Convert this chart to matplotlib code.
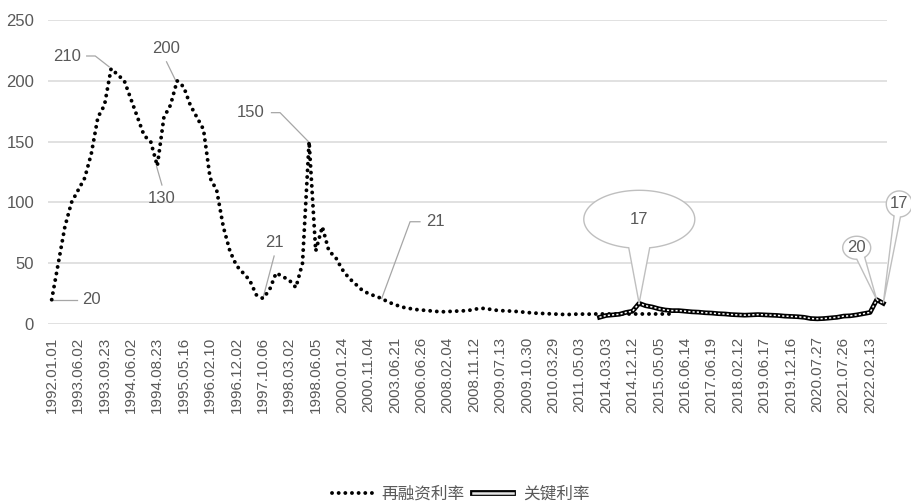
import numpy as np
import matplotlib.pyplot as plt
from matplotlib.lines import Line2D
from matplotlib.patches import Polygon

plt.rcParams['font.family'] = ['Liberation Sans', 'Noto Sans CJK SC', 'DejaVu Sans']

# Refinancing rate, one value per rate change (1992.01.01 ... 2015.08.03)
refi_rate = [20, 50, 80, 100, 110, 120, 140, 170, 180, 210,
             205, 200, 185, 170, 155, 150, 130, 170, 180, 200,
             195, 180, 170, 160, 120, 110, 80, 60, 48, 42,
             36, 24, 21, 28, 42, 39, 36, 30, 50, 150,
             60, 80, 60, 55, 45, 38, 33, 28, 25, 23,
             21, 18, 16, 14, 13, 12, 11.5, 11, 10.5, 10,
             10.25, 10.5, 10.75, 11, 12, 13, 12.5, 11.5, 11, 10.75,
             10.5, 10, 9.5, 9, 8.75, 8.5, 8.25, 8, 7.75, 8,
             8.25, 8, 8.25, 8.25, 8.25, 8.25, 8.25, 8.25, 8.25, 8.25,
             8.25, 8.25, 8.25, 8.25, 8.25]

# Key rate, starting at 2013.09.13
key_start = 83
key_rate = [5.5, 7, 7.5, 8, 9.5, 10.5, 17, 15, 14, 12.5,
            11.5, 11, 11, 10.5, 10, 9.75, 9.25, 9, 8.5, 8.25,
            7.75, 7.5, 7.25, 7.5, 7.75, 7.5, 7.25, 7, 6.5, 6.25,
            6, 5.5, 4.5, 4.25, 4.5, 5, 5.5, 6.5, 6.75, 7.5,
            8.5, 9.5, 20, 17]

tick_labels = ['1992.01.01', '1993.06.02', '1993.09.23', '1994.06.02', '1994.08.23',
               '1995.05.16', '1996.02.10', '1996.12.02', '1997.10.06', '1998.03.02',
               '1998.06.05', '2000.01.24', '2000.11.04', '2003.06.21', '2006.06.26',
               '2008.02.04', '2008.11.12', '2009.07.13', '2009.10.30', '2010.03.29',
               '2011.05.03', '2014.03.03', '2014.12.12', '2015.05.05', '2016.06.14',
               '2017.06.19', '2018.02.12', '2019.06.17', '2019.12.16', '2020.07.27',
               '2021.07.26', '2022.02.13']

n_points = key_start + len(key_rate)
x_refi = np.arange(len(refi_rate))
x_key = np.arange(key_start, n_points)

grey_txt = '#595959'
leader = '#a6a6a6'

fig = plt.figure(figsize=(9.12, 5.03), dpi=100)
ax = fig.add_axes([48 / 912, 1 - 324 / 503, (887 - 48) / 912, (324 - 20) / 503])

ax.plot(x_refi, refi_rate, color='black', lw=2.8, linestyle=(0, (0.01, 1.7)),
        dash_capstyle='round', zorder=3)
ax.plot(x_key, key_rate, color='black', lw=3.4, zorder=4)
ax.plot(x_key, key_rate, color='white', lw=1.1, linestyle=(0, (1.4, 1.4)), zorder=5)

ax.set_xlim(-0.56, n_points - 1 + 0.56)
ax.set_ylim(0, 250)
ax.set_yticks(np.arange(0, 251, 50))
ax.set_xticks(np.arange(0, len(tick_labels) * 4, 4))
ax.set_xticklabels(tick_labels, rotation=90, fontsize=11, color=grey_txt)
ax.tick_params(axis='y', labelsize=12, labelcolor=grey_txt, length=0, pad=10)
ax.tick_params(axis='x', length=0, pad=9)
for s in ax.spines.values():
    s.set_visible(False)
ax.yaxis.grid(True, color='#d9d9d9', lw=1.1)
ax.set_axisbelow(True)


def label(txt, tx, ty, path):
    ax.text(tx, ty, txt, ha='center', va='center', fontsize=12, color=grey_txt, zorder=6)
    px, py = zip(*path)
    ax.plot(px, py, color=leader, lw=0.9, zorder=2, clip_on=False)


label('20', 5.95, 20, [(0, 20), (3.8, 20)])
label('210', 2.3, 219.6, [(5.3, 220.4), (6.6, 220.4), (8.7, 211.5)])
label('200', 17.4, 226.7, [(17.4, 215.6), (18.8, 200)])
label('130', 16.7, 102.8, [(16.7, 114.3), (15.9, 129.4)])
label('150', 30.2, 173.8, [(33.3, 173.8), (34.6, 173.8), (38.9, 150)])
label('21', 33.7, 67.2, [(33.7, 55.9), (32, 21)])
label('21', 58.1, 84.1, [(55.8, 84.1), (54.3, 84.1), (50, 21)])


def callout(txt, cx, cy, a, b, tip, half):
    # ellipse outline with a wedge pointing at the data point
    tx, ty = tip
    t0 = np.arctan2((ty - cy) / b, (tx - cx) / a)
    t = np.linspace(t0 + half, t0 + 2 * np.pi - half, 200)
    pts = np.column_stack([cx + a * np.cos(t), cy + b * np.sin(t)])
    pts = np.vstack([pts, [tx, ty]])
    ax.add_patch(Polygon(pts, closed=True, facecolor='white', edgecolor='#bfbfbf',
                         lw=1.0, zorder=6, clip_on=False))
    ax.text(cx, cy, txt, ha='center', va='center', fontsize=12, color=grey_txt,
            zorder=7, clip_on=False)


callout('17', 89.03, 86.1, 8.41, 23.85, (89, 17), 0.19)
callout('20', 121.97, 62.7, 2.12, 9.46, (125, 20), 0.3)
callout('17', 128.42, 98.7, 1.97, 10.7, (126, 17), 0.25)

h_refi = Line2D([], [], color='black', lw=2.8, linestyle=(0, (0.01, 1.7)),
                dash_capstyle='round')
h_key = (Line2D([], [], color='black', lw=4.2),
         Line2D([], [], color='#e6e6e6', lw=1.8))
fig.legend([h_refi, h_key], ['再融资利率', '关键利率'], loc='center',
           bbox_to_anchor=(0.505, 0.018), ncol=2, frameon=False,
           prop={'family': ['Noto Sans CJK SC', 'DejaVu Sans'], 'size': 12},
           labelcolor=grey_txt, handlelength=2.4, handletextpad=0.6,
           columnspacing=0.5, borderpad=0)

fig.savefig('out.png', dpi=100)
